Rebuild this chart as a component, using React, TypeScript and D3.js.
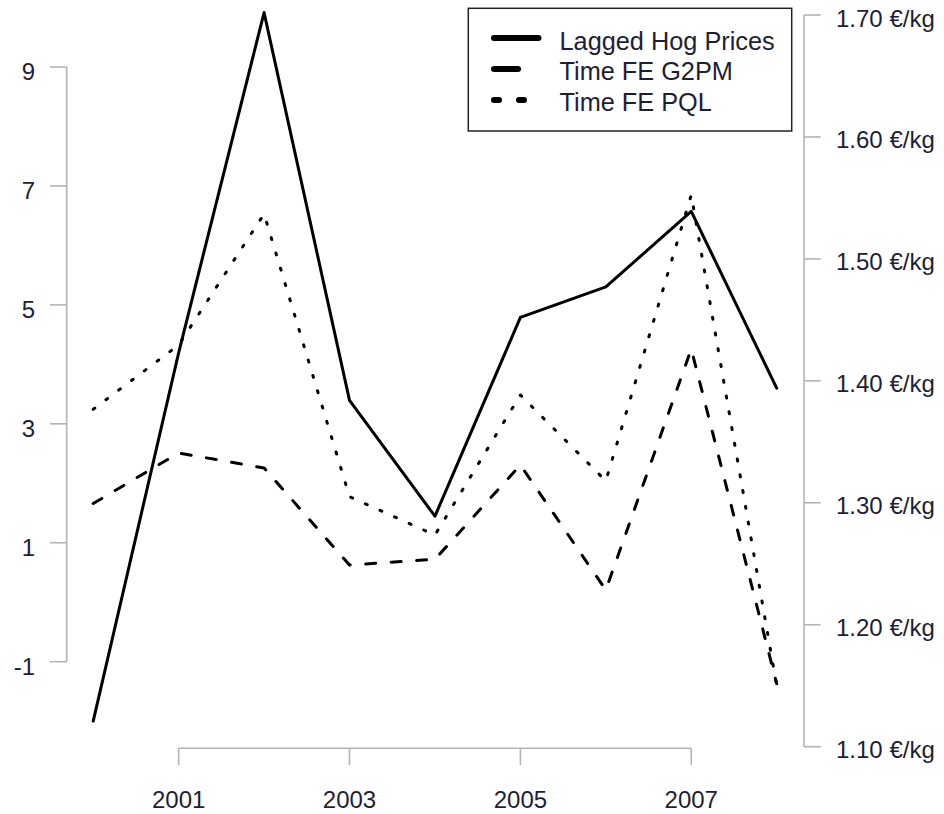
import React from "react";
import * as d3 from "d3";

const years = [2000, 2001, 2002, 2003, 2004, 2005, 2006, 2007, 2008];
const hogPrices = [1.121, 1.423, 1.702, 1.384, 1.289, 1.452, 1.477, 1.539, 1.394];
const timeFeG2PM = [1.66, 2.51, 2.257, 0.626, 0.722, 2.307, 0.206, 4.258, -1.37];
const timeFePQL = [3.244, 4.325, 6.528, 1.775, 1.13, 3.485, 2.04, 6.848, -1.4];

const leftTicks = [-1, 1, 3, 5, 7, 9];
const rightTicks = [1.1, 1.2, 1.3, 1.4, 1.5, 1.6, 1.7];
const xTicks = [2001, 2003, 2005, 2007];
const legendLabels = ["Lagged Hog Prices", "Time FE G2PM", "Time FE PQL"];

const W = 944;
const H = 814;
const FONT = "'Liberation Sans', Arial, sans-serif";
const AXIS = "#b4b4b4";
const TEXT = "#1e1e34";

export default function App() {
  const x = d3.scaleLinear().domain([2000, 2008]).range([93.2, 776.7]);
  const yL = d3.scaleLinear().domain([-1, 9]).range([661.7, 67]);
  const yR = d3.scaleLinear().domain([1.1, 1.7]).range([746.7, 15]);

  const lineL = d3
    .line<number>()
    .x((_, i) => x(years[i]))
    .y((d) => yL(d));
  const lineR = d3
    .line<number>()
    .x((_, i) => x(years[i]))
    .y((d) => yR(d));

  const leftAxisX = 66.7;
  const rightAxisX = 804;
  const xAxisY = 748.3;

  const legendStyles = [
    { dash: undefined as string | undefined },
    { dash: "24 36" },
    { dash: "5 20" },
  ];

  return (
    <svg
      width={W}
      height={H}
      style={{ position: "absolute", left: 0, top: 0, background: "#fff" }}
      fontFamily={FONT}
    >
      <rect x={0} y={0} width={W} height={H} fill="#fff" />
      {/* left axis */}
      <line
        x1={leftAxisX}
        x2={leftAxisX}
        y1={yL(9)}
        y2={yL(-1)}
        stroke={AXIS}
        strokeWidth={1.6}
      />
      {leftTicks.map((t) => (
        <g key={"l" + t}>
          <line x1={50} x2={leftAxisX} y1={yL(t)} y2={yL(t)} stroke={AXIS} strokeWidth={1.6} />
          <text x={35} y={yL(t) + 13} textAnchor="end" fontSize={24} fill={TEXT}>
            {t}
          </text>
        </g>
      ))}
      {/* right axis */}
      <line
        x1={rightAxisX}
        x2={rightAxisX}
        y1={yR(1.7)}
        y2={yR(1.1)}
        stroke={AXIS}
        strokeWidth={1.6}
      />
      {rightTicks.map((t) => (
        <g key={"r" + t}>
          <line x1={rightAxisX} x2={820.7} y1={yR(t)} y2={yR(t)} stroke={AXIS} strokeWidth={1.6} />
          <text x={836} y={yR(t) + 11.5} textAnchor="start" fontSize={24} fill={TEXT}>
            {t.toFixed(2) + " €/kg"}
          </text>
        </g>
      ))}
      {/* x axis */}
      <line
        x1={x(2001)}
        x2={x(2007)}
        y1={xAxisY}
        y2={xAxisY}
        stroke={AXIS}
        strokeWidth={1.6}
      />
      {xTicks.map((t) => (
        <g key={"x" + t}>
          <line x1={x(t)} x2={x(t)} y1={xAxisY} y2={765} stroke={AXIS} strokeWidth={1.6} />
          <text x={x(t)} y={808} textAnchor="middle" fontSize={24} fill={TEXT}>
            {t}
          </text>
        </g>
      ))}
      {/* series */}
      <path
        d={lineR(hogPrices) || ""}
        fill="none"
        stroke="#000"
        strokeWidth={3}
        strokeLinejoin="round"
        strokeLinecap="round"
      />
      <path
        d={lineL(timeFeG2PM) || ""}
        fill="none"
        stroke="#000"
        strokeWidth={3}
        strokeDasharray="10 15.5"
        strokeLinejoin="round"
        strokeLinecap="round"
      />
      <path
        d={lineL(timeFePQL) || ""}
        fill="none"
        stroke="#000"
        strokeWidth={3}
        strokeDasharray="2 14"
        strokeLinejoin="round"
        strokeLinecap="round"
      />
      {/* legend */}
      <rect
        x={468.3}
        y={8.3}
        width={323.4}
        height={122.7}
        fill="#fff"
        stroke="#222"
        strokeWidth={1.5}
      />
      {legendLabels.map((lab, i) => {
        const ly = 38 + i * 31;
        const ty = 50 + i * 30.35;
        return (
          <g key={lab}>
            <line
              x1={494}
              x2={538.5}
              y1={ly}
              y2={ly}
              stroke="#000"
              strokeWidth={6}
              strokeLinecap="round"
              strokeDasharray={legendStyles[i].dash}
            />
            <text x={559.5} y={ty} fontSize={25.3} fill={TEXT}>
              {lab}
            </text>
          </g>
        );
      })}
    </svg>
  );
}
